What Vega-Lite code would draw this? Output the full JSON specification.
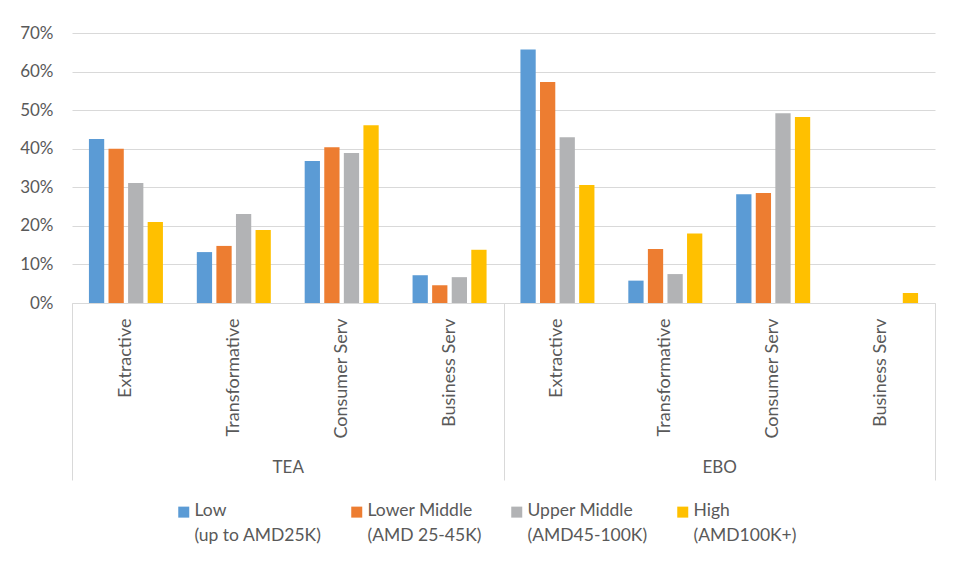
{
  "$schema": "https://vega.github.io/schema/vega-lite/v6.json",
  "width": 863,
  "height": 270,
  "autosize": {"type": "none"},
  "padding": {"left": 72, "top": 33, "right": 20, "bottom": 259},
  "background": "white",
  "config": {"view": {"stroke": null}, "font": "Lato"},
  "layer": [
    {
      "data": {
        "values": [
          {"Cat": "TEA|Extractive", "Income": "Low|(up to AMD25K)", "value": 0.425},
          {"Cat": "TEA|Extractive", "Income": "Lower Middle|(AMD 25-45K)", "value": 0.400},
          {"Cat": "TEA|Extractive", "Income": "Upper Middle|(AMD45-100K)", "value": 0.311},
          {"Cat": "TEA|Extractive", "Income": "High|(AMD100K+)", "value": 0.210},
          {"Cat": "TEA|Transformative", "Income": "Low|(up to AMD25K)", "value": 0.132},
          {"Cat": "TEA|Transformative", "Income": "Lower Middle|(AMD 25-45K)", "value": 0.148},
          {"Cat": "TEA|Transformative", "Income": "Upper Middle|(AMD45-100K)", "value": 0.231},
          {"Cat": "TEA|Transformative", "Income": "High|(AMD100K+)", "value": 0.189},
          {"Cat": "TEA|Consumer Serv", "Income": "Low|(up to AMD25K)", "value": 0.368},
          {"Cat": "TEA|Consumer Serv", "Income": "Lower Middle|(AMD 25-45K)", "value": 0.404},
          {"Cat": "TEA|Consumer Serv", "Income": "Upper Middle|(AMD45-100K)", "value": 0.389},
          {"Cat": "TEA|Consumer Serv", "Income": "High|(AMD100K+)", "value": 0.461},
          {"Cat": "TEA|Business Serv", "Income": "Low|(up to AMD25K)", "value": 0.072},
          {"Cat": "TEA|Business Serv", "Income": "Lower Middle|(AMD 25-45K)", "value": 0.046},
          {"Cat": "TEA|Business Serv", "Income": "Upper Middle|(AMD45-100K)", "value": 0.067},
          {"Cat": "TEA|Business Serv", "Income": "High|(AMD100K+)", "value": 0.138},
          {"Cat": "EBO|Extractive", "Income": "Low|(up to AMD25K)", "value": 0.657},
          {"Cat": "EBO|Extractive", "Income": "Lower Middle|(AMD 25-45K)", "value": 0.573},
          {"Cat": "EBO|Extractive", "Income": "Upper Middle|(AMD45-100K)", "value": 0.430},
          {"Cat": "EBO|Extractive", "Income": "High|(AMD100K+)", "value": 0.306},
          {"Cat": "EBO|Transformative", "Income": "Low|(up to AMD25K)", "value": 0.058},
          {"Cat": "EBO|Transformative", "Income": "Lower Middle|(AMD 25-45K)", "value": 0.140},
          {"Cat": "EBO|Transformative", "Income": "Upper Middle|(AMD45-100K)", "value": 0.075},
          {"Cat": "EBO|Transformative", "Income": "High|(AMD100K+)", "value": 0.180},
          {"Cat": "EBO|Consumer Serv", "Income": "Low|(up to AMD25K)", "value": 0.282},
          {"Cat": "EBO|Consumer Serv", "Income": "Lower Middle|(AMD 25-45K)", "value": 0.285},
          {"Cat": "EBO|Consumer Serv", "Income": "Upper Middle|(AMD45-100K)", "value": 0.492},
          {"Cat": "EBO|Consumer Serv", "Income": "High|(AMD100K+)", "value": 0.482},
          {"Cat": "EBO|Business Serv", "Income": "Low|(up to AMD25K)", "value": 0},
          {"Cat": "EBO|Business Serv", "Income": "Lower Middle|(AMD 25-45K)", "value": 0},
          {"Cat": "EBO|Business Serv", "Income": "Upper Middle|(AMD45-100K)", "value": 0},
          {"Cat": "EBO|Business Serv", "Income": "High|(AMD100K+)", "value": 0.026}
        ]
      },
      "mark": {"type": "bar"},
      "encoding": {
        "x": {
          "field": "Cat",
          "type": "nominal",
          "sort": null,
          "scale": {"paddingInner": 0, "paddingOuter": 0},
          "axis": {
            "title": null,
            "labelExpr": "split(datum.label, '|')[1]",
            "labelAngle": -90,
            "labelAlign": "right",
            "labelBaseline": "middle",
            "ticks": false,
            "domainColor": "#D9D9D9",
            "labelColor": "#595959",
            "labelFontSize": 18,
            "labelPadding": 15,
            "labelLimit": 200
          }
        },
        "xOffset": {
          "field": "Income",
          "type": "nominal",
          "scale": {
            "domain": ["Low|(up to AMD25K)", "Lower Middle|(AMD 25-45K)", "Upper Middle|(AMD45-100K)", "High|(AMD100K+)"],
            "paddingInner": 0.22,
            "paddingOuter": 0.865
          }
        },
        "y": {
          "field": "value",
          "type": "quantitative",
          "scale": {"domain": [0, 0.7], "nice": false},
          "axis": {
            "title": null,
            "values": [0, 0.1, 0.2, 0.3, 0.4, 0.5, 0.6, 0.7],
            "format": ".0%",
            "domain": false,
            "ticks": false,
            "gridColor": "#D9D9D9",
            "labelColor": "#595959",
            "labelFontSize": 17,
            "labelPadding": 19
          }
        },
        "color": {
          "field": "Income",
          "type": "nominal",
          "scale": {
            "domain": ["Low|(up to AMD25K)", "Lower Middle|(AMD 25-45K)", "Upper Middle|(AMD45-100K)", "High|(AMD100K+)"],
            "range": ["#5B9BD5", "#ED7D31", "#B2B3B5", "#FFC000"]
          },
          "legend": {
            "title": null,
            "orient": "none",
            "direction": "horizontal",
            "legendX": 103,
            "legendY": 470,
            "padding": 0,
            "labelExpr": "split(datum.label, '|')",
            "labelFontSize": 17.5,
            "labelColor": "#595959",
            "labelBaseline": "top",
            "labelOffset": 2,
            "labelLimit": 300,
            "columnPadding": 26,
            "symbolType": "square",
            "symbolSize": 121,
            "symbolStrokeWidth": 0,
            "encode": {
              "labels": {"update": {"lineHeight": {"value": 25}, "dy": {"value": -10}}}
            }
          }
        }
      }
    },
    {
      "data": {"values": [{"Group": "TEA"}, {"Group": "EBO"}]},
      "mark": {"type": "rule", "opacity": 0},
      "encoding": {
        "x": {
          "field": "Group",
          "type": "nominal",
          "sort": null,
          "scale": {"paddingInner": 0, "paddingOuter": 0},
          "axis": {
            "title": null,
            "orient": "bottom",
            "tickBand": "extent",
            "tickSize": 177,
            "tickColor": "#D9D9D9",
            "domain": false,
            "grid": false,
            "labelAngle": 0,
            "labelAlign": "center",
            "labelBaseline": "middle",
            "labelPadding": -13,
            "labelFontSize": 17,
            "labelColor": "#595959"
          }
        }
      }
    }
  ],
  "resolve": {"scale": {"x": "independent"}, "axis": {"x": "independent"}}
}
